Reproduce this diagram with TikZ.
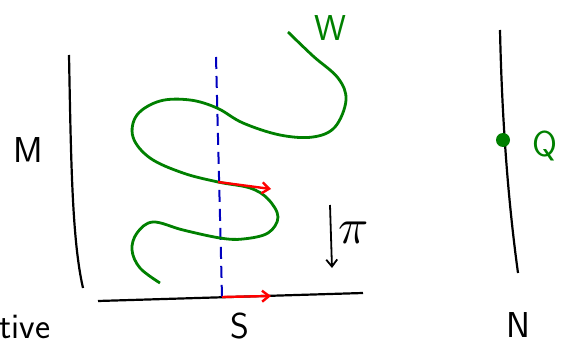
\documentclass[tikz,border=0pt]{standalone}
\usepackage{graphicx}
\usetikzlibrary{arrows.meta}
\begin{document}
\begin{tikzpicture}[x=1pt,y=-1pt,>={Straight Barb[length=7pt,width=11pt]},
   curve/.style={line width=2.8pt,green!50!black},
   lbl/.style={font=\fontsize{36}{36}\sffamily\selectfont}]
   \useasboundingbox (0,0) rectangle (563,345);
   %manifold M
   \draw[line width=2.2pt] (69,55) .. controls (71,160) and (72,240) .. (83,288);
   \node[lbl] (M) at (28,150) {M};
   %base S
   \draw[line width=2.2pt] (98,301) -- (363,293);
   \node[lbl] (S) at (240,326) {S};
   \node[lbl,anchor=west] (tive) at (-4,327) {tive};
   %fibre
   \draw[line width=2pt,blue!75!black,dash pattern=on 12pt off 7pt] (216,57) -- (222,297);
   %curve W
   \draw[curve] plot[smooth,tension=0.6] coordinates {(288,32) (313,56) (338,78) (346,100)
      (335,127) (313,137) (280,135) (243,123) (217,108) (190,100) (160,101) (137,115)
      (133,137) (150,158) (183,173) (218,182) (250,188) (268,199) (278,217) (268,233)
      (243,239) (220,238) (183,230) (153,222) (137,233) (132,250) (140,268) (160,283)};
   \node[lbl,green!50!black] (W) at (330,28) {W};
   %lifts
   \coordinate (a0) at (218,182);
   \coordinate (a1) at (271,189);
   \coordinate (b0) at (222,297);
   \coordinate (b1) at (271,296);
   \draw[->,red,line width=2.4pt] (a0) -- (a1);
   \draw[->,red,line width=2.4pt] (b0) -- (b1);
   %projection
   \coordinate (p0) at (330,205);
   \coordinate (p1) at (332,268);
   \draw[->,line width=1.8pt] (p0) -- (p1);
   \node (pi) at (354,233) {\scalebox{5}{$\pi$}};
   %manifold N
   \draw[line width=2.2pt] (500,30) .. controls (502,120) and (508,200) .. (518,273);
   \fill[green!50!black] (503,140) circle (7);
   \node[lbl,green!50!black] (Q) at (545,146) {Q};
   \node[lbl] (N) at (518,325) {N};
\end{tikzpicture}
\end{document}
